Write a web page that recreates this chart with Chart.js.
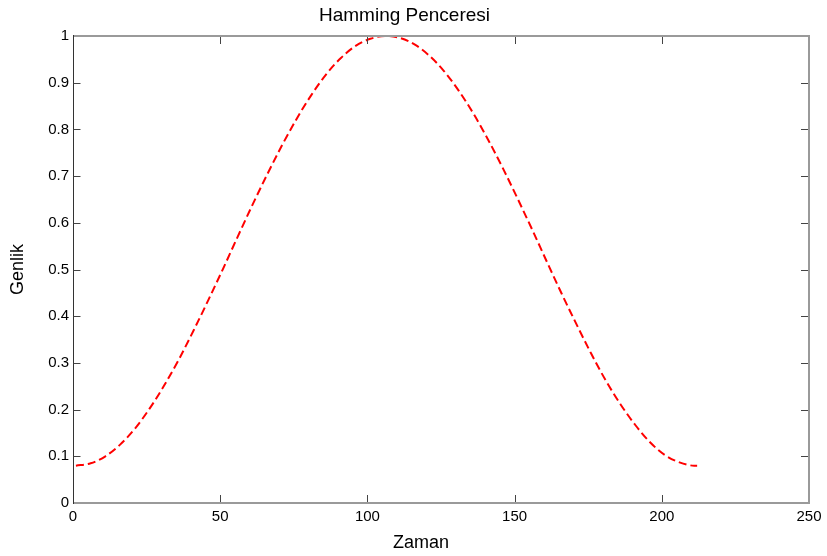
<!DOCTYPE html>
<html>
<head>
<meta charset="utf-8">
<script src="https://cdn.jsdelivr.net/npm/chart.js@4.4.1/dist/chart.umd.min.js"></script>
<style>
html,body{margin:0;padding:0;background:#fff;}
#wrap{position:relative;width:827px;height:556px;}
</style>
</head>
<body>
<div id="wrap"><canvas id="c"></canvas></div>
<script>
// ---- data ----
const chartTitle = 'Hamming Penceresi';
const xLabel = 'Zaman';
const yLabel = 'Genlik';
const xValues = [1,6,11,16,21,26,31,36,41,46,51,56,61,66,71,76,81,86,91,96,101,106,111,116,121,126,131,136,141,146,151,156,161,166,171,176,181,186,191,196,201,206,211,212];
const amplitude = [0.080,0.085,0.100,0.125,0.159,0.202,0.252,0.308,0.370,0.435,0.502,0.571,0.639,0.704,0.766,0.823,0.874,0.918,0.953,0.979,0.994,1.000,0.996,0.982,0.958,0.925,0.883,0.834,0.778,0.717,0.652,0.585,0.516,0.448,0.383,0.320,0.262,0.211,0.167,0.130,0.103,0.087,0.080,0.080];
const xTicks = [0,50,100,150,200,250];
const yTicks = [0,0.1,0.2,0.3,0.4,0.5,0.6,0.7,0.8,0.9,1];

const FONT = 'Liberation Sans, Arial, Helvetica, sans-serif';
Chart.defaults.font.family = FONT;
Chart.defaults.color = '#000';

const boxPlugin = {
  id: 'matlabBox',
  afterDatasetsDraw(chart) {
    const {ctx, chartArea: a, scales} = chart;
    ctx.save();
    const L = Math.round(a.left) + 0.5, R = Math.round(a.right);
    const T = Math.round(a.top), B = Math.round(a.bottom);
    // gray top / right / bottom edges (2px)
    ctx.strokeStyle = '#9a9a9a';
    ctx.lineWidth = 2;
    ctx.beginPath();
    ctx.moveTo(L, T); ctx.lineTo(R, T); ctx.lineTo(R, B); ctx.lineTo(L, B);
    ctx.stroke();
    // dark left edge
    ctx.strokeStyle = '#333';
    ctx.lineWidth = 1;
    ctx.beginPath();
    ctx.moveTo(L, T - 1); ctx.lineTo(L, B + 1);
    ctx.stroke();
    const len = 7;
    ctx.strokeStyle = '#444';
    ctx.beginPath();
    scales.x.ticks.forEach(t => {
      const px = Math.round(scales.x.getPixelForValue(t.value)) + 0.5;
      if (px <= L + 1 || px >= R - 1) return;
      ctx.moveTo(px, B - 1); ctx.lineTo(px, B - 1 - len);
      ctx.moveTo(px, T + 1); ctx.lineTo(px, T + 1 + len);
    });
    scales.y.ticks.forEach(t => {
      const py = Math.round(scales.y.getPixelForValue(t.value)) + 0.5;
      if (py <= T + 1 || py >= B - 1) return;
      ctx.moveTo(L, py); ctx.lineTo(L + len, py);
      ctx.moveTo(R - 1, py); ctx.lineTo(R - 1 - len, py);
    });
    ctx.stroke();
    // x axis label
    ctx.fillStyle = '#000';
    ctx.font = '18px ' + FONT;
    ctx.textAlign = 'center';
    ctx.textBaseline = 'alphabetic';
    ctx.fillText(xLabel, (a.left + a.right) / 2 - 20, 548);
    ctx.restore();
  }
};

new Chart(document.getElementById('c'), {
  type: 'line',
  data: {
    datasets: [{
      data: xValues.map((x, i) => ({x: x, y: amplitude[i]})),
      borderColor: '#ff0000',
      borderWidth: 2,
      borderDash: [8, 4],
      pointRadius: 0,
      fill: false,
      cubicInterpolationMode: 'monotone'
    }]
  },
  options: {
    responsive: true,
    maintainAspectRatio: false,
    devicePixelRatio: 1,
    animation: false,
    layout: {padding: {top: 0, right: 18, bottom: 0, left: 0}},
    plugins: {
      legend: {display: false},
      tooltip: {enabled: false},
      title: {
        display: true,
        text: chartTitle,
        color: '#000',
        font: {size: 19, weight: 'normal', family: FONT, lineHeight: 1.2},
        padding: {top: 4, bottom: 9.2}
      }
    },
    scales: {
      x: {
        type: 'linear',
        min: 0, max: 250,
        afterBuildTicks: s => { s.ticks = xTicks.map(v => ({value: v})); },
        afterFit: s => { s.height = 53; },
        ticks: {font: {size: 15}, padding: 5, maxRotation: 0, color: '#000'},
        grid: {display: false, drawTicks: false, tickLength: 0},
        border: {display: false},
        title: {display: false}
      },
      y: {
        type: 'linear',
        min: 0, max: 1,
        afterBuildTicks: s => { s.ticks = yTicks.map(v => ({value: v})); },
        afterFit: s => { s.width = 73; },
        ticks: {font: {size: 15}, padding: 4, color: '#000', callback: v => String(Math.round(v * 10) / 10)},
        grid: {display: false, drawTicks: false, tickLength: 0},
        border: {display: false},
        title: {display: true, text: yLabel, color: '#000', font: {size: 18}, padding: {top: 7, bottom: 0}}
      }
    }
  },
  plugins: [boxPlugin]
});
</script>
</body>
</html>
